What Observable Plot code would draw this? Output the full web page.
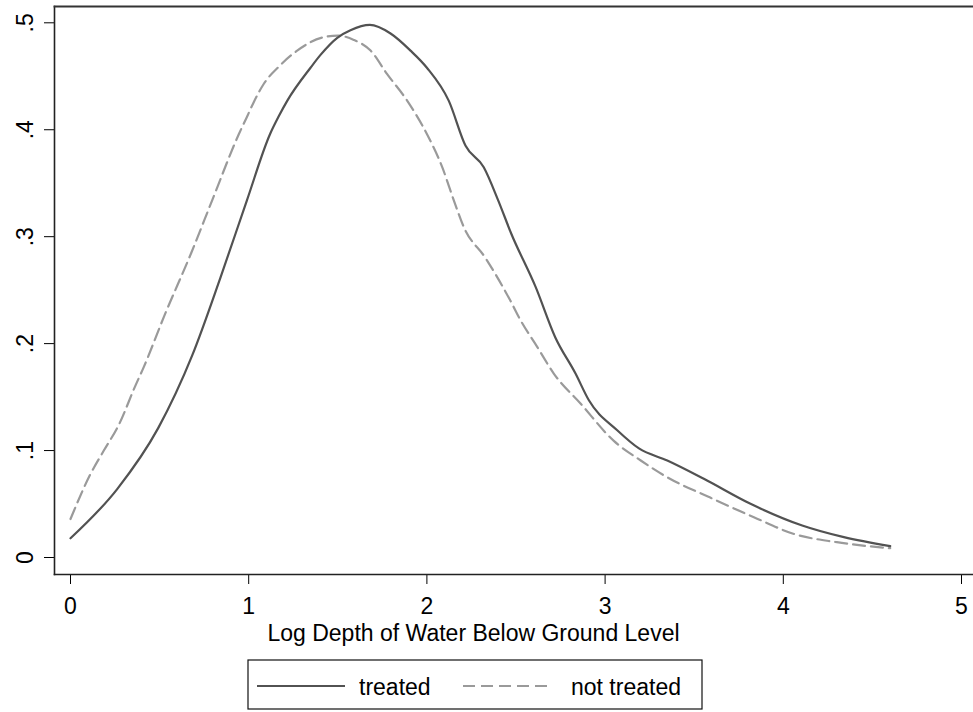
<!DOCTYPE html>
<html><head><meta charset="utf-8">
<script src="https://cdn.jsdelivr.net/npm/d3@7"></script>
<script src="https://cdn.jsdelivr.net/npm/@observablehq/plot@0.6"></script>
<style>
body{margin:0;background:#fff;overflow:hidden;}
#chart{width:973px;height:712px;font-family:"Liberation Sans",Arial,sans-serif;}
#chart svg{display:block;}
</style>
</head><body><div id="chart"></div>
<script>
// Series
const treatedX = [0, 0.262, 0.492, 0.683, 0.842, 0.99, 1.12, 1.17, 1.216, 1.347, 1.403, 1.497, 1.571, 1.68, 1.796, 1.908, 2.0, 2.123, 2.217, 2.319, 2.40, 2.473, 2.61, 2.72, 2.834, 2.909, 3.068, 3.19, 3.349, 3.554, 3.816, 4.106, 4.34, 4.60];
const treatedY = [0.018, 0.064, 0.121, 0.189, 0.262, 0.334, 0.396, 0.413, 0.427, 0.458, 0.470, 0.486, 0.493, 0.498, 0.490, 0.474, 0.458, 0.427, 0.385, 0.365, 0.334, 0.303, 0.253, 0.206, 0.172, 0.147, 0.119, 0.102, 0.0907, 0.0736, 0.0502, 0.0299, 0.019, 0.0106];
const notTreatedX = [0, 0.112, 0.187, 0.271, 0.365, 0.411, 0.524, 0.678, 0.795, 0.945, 0.99, 1.029, 1.085, 1.169, 1.272, 1.42, 1.50, 1.59, 1.684, 1.777, 1.89, 2.0, 2.086, 2.151, 2.207, 2.329, 2.469, 2.525, 2.619, 2.712, 2.862, 3.049, 3.2, 3.349, 3.59, 3.835, 4.06, 4.30, 4.60];
const notTreatedY = [0.036, 0.078, 0.100, 0.124, 0.161, 0.178, 0.225, 0.285, 0.334, 0.396, 0.412, 0.426, 0.443, 0.459, 0.474, 0.4865, 0.488, 0.484, 0.474, 0.452, 0.427, 0.396, 0.365, 0.334, 0.309, 0.280, 0.240, 0.222, 0.197, 0.172, 0.144, 0.109, 0.0907, 0.075, 0.056, 0.0377, 0.022, 0.0143, 0.0087];
const xTicks = [0, 1, 2, 3, 4, 5];
const yTicks = [0, 0.1, 0.2, 0.3, 0.4, 0.5];
const yTickLabels = ["0", ".1", ".2", ".3", ".4", ".5"];
const xTitle = "Log Depth of Water Below Ground Level";
const seriesNames = ["treated", "not treated"];
const seriesColors = ["#525252", "#9a9a9a"];

const treated = treatedX.map((x, i) => ({x, y: treatedY[i]}));
const notTreated = notTreatedX.map((x, i) => ({x, y: notTreatedY[i]}));

const FS = 23;
const plot = Plot.plot({
  width: 973, height: 650,
  marginLeft: 54, marginTop: 6, marginRight: 0, marginBottom: 76,
  x: {domain: [0, 5], insetLeft: 16, insetRight: 12},
  y: {domain: [0, 0.5], insetTop: 16.3, insetBottom: 17},
  style: {fontFamily: "'Liberation Sans', Arial, sans-serif", fontSize: FS + "px", color: "black", background: "white", overflow: "visible"},
  marks: [
    Plot.line(notTreated, {x: "x", y: "y", stroke: seriesColors[1], strokeWidth: 2.2, strokeDasharray: "12,6", curve: "monotone-x"}),
    Plot.line(treated, {x: "x", y: "y", stroke: seriesColors[0], strokeWidth: 2.2, curve: "monotone-x"}),
    Plot.axisX({ticks: xTicks, tickSize: 10, tickPadding: 13, fontSize: FS, label: null, tickFormat: d => String(d)}),
    Plot.axisY({ticks: yTicks, tickSize: 10, tickFormat: () => "", label: null}),
    Plot.text(yTicks, {y: d => d, text: (d, i) => yTickLabels[i], frameAnchor: "left", rotate: -90, dx: -22, textAnchor: "middle", lineAnchor: "bottom", fontSize: FS, fill: "black"}),
    Plot.text([xTitle], {frameAnchor: "bottom-left", dx: 419, dy: 50, textAnchor: "middle", lineAnchor: "top", fontSize: FS, fill: "black"}),
    Plot.frame({anchor: "left", stroke: "#222", strokeWidth: 1.6}),
    Plot.frame({anchor: "top", stroke: "#333", strokeWidth: 1.8}),
    Plot.frame({anchor: "bottom", stroke: "#222", strokeWidth: 1.6})
  ]
});
document.getElementById("chart").appendChild(plot);

// Legend below the plot
const leg = d3.create("svg").attr("width", 973).attr("height", 62)
  .style("font-family", "'Liberation Sans', Arial, sans-serif").style("font-size", FS + "px");
leg.append("rect").attr("x", 248).attr("y", 10).attr("width", 454).attr("height", 49)
  .attr("fill", "white").attr("stroke", "#111").attr("stroke-width", 1.2);
const items = [
  {name: seriesNames[0], color: seriesColors[0], dash: null, x0: 257, x1: 345, tx: 359},
  {name: seriesNames[1], color: seriesColors[1], dash: "12,6", x0: 463, x1: 552, tx: 571}
];
for (const it of items) {
  leg.append("line").attr("x1", it.x0).attr("x2", it.x1).attr("y1", 36).attr("y2", 36)
    .attr("stroke", it.color).attr("stroke-width", 2.2).attr("stroke-dasharray", it.dash);
  leg.append("text").attr("x", it.tx).attr("y", 45).attr("fill", "black").text(it.name);
}
document.getElementById("chart").appendChild(leg.node());
</script>
</body></html>
